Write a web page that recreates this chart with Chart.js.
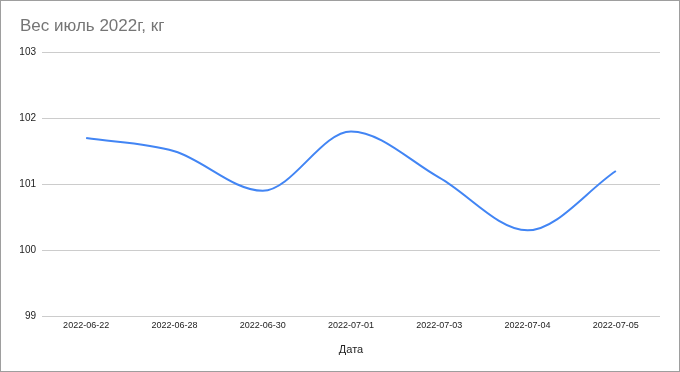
<!DOCTYPE html>
<html><head><meta charset="utf-8">
<script src="https://cdn.jsdelivr.net/npm/chart.js@4"></script>
<style>
html,body{margin:0;padding:0;background:#fff;}
#wrap{width:678px;height:370px;border:1px solid #9e9e9e;position:relative;}
canvas{display:block;}
</style></head><body>
<div id="wrap"><canvas id="c" width="678" height="370"></canvas></div>
<script>
const categories = ['2022-06-22','2022-06-28','2022-06-30','2022-07-01','2022-07-03','2022-07-04','2022-07-05'];
const weights = [101.7, 101.5, 100.9, 101.8, 101.1, 100.3, 101.2];
const yTicks = [99, 100, 101, 102, 103];
const titleText = 'Вес июль 2022г, кг';
const xTitle = 'Дата';

const FONT = '"Liberation Sans", Arial, sans-serif';
new Chart(document.getElementById('c'), {
  type: 'line',
  data: { labels: categories, datasets: [{ data: weights, borderColor: '#4285f4', borderWidth: 2, pointRadius: 0, cubicInterpolationMode: 'monotone', fill: false }] },
  options: {
    responsive: false, animation: false,
    layout: { padding: { left: 19, right: 19, top: 0, bottom: 0 } },
    plugins: {
      legend: { display: false }, tooltip: { enabled: false },
      title: { display: true, text: titleText, align: 'start', color: '#757575',
        font: { family: FONT, size: 17, weight: 'normal' }, padding: { top: 15, bottom: 16 } }
    },
    scales: {
      y: { min: 99, max: 103,
        afterFit: s => { s.width = 22; },
        afterBuildTicks: s => { s.ticks = yTicks.map(v => ({ value: v })); },
        border: { display: false },
        grid: { color: '#cccccc', drawTicks: false },
        ticks: { color: '#222', font: { family: FONT, size: 10 }, padding: 6 } },
      x: { offset: true,
        afterFit: s => { s.height = 55; },
        border: { display: false },
        grid: { display: false, drawTicks: false },
        ticks: { color: '#222', font: { family: FONT, size: 9 }, padding: 4, maxRotation: 0, autoSkip: false },
        title: { display: true, text: xTitle, color: '#222', font: { family: FONT, size: 11 }, padding: { top: 4, bottom: 14 } } }
    }
  }
});
</script></body></html>
